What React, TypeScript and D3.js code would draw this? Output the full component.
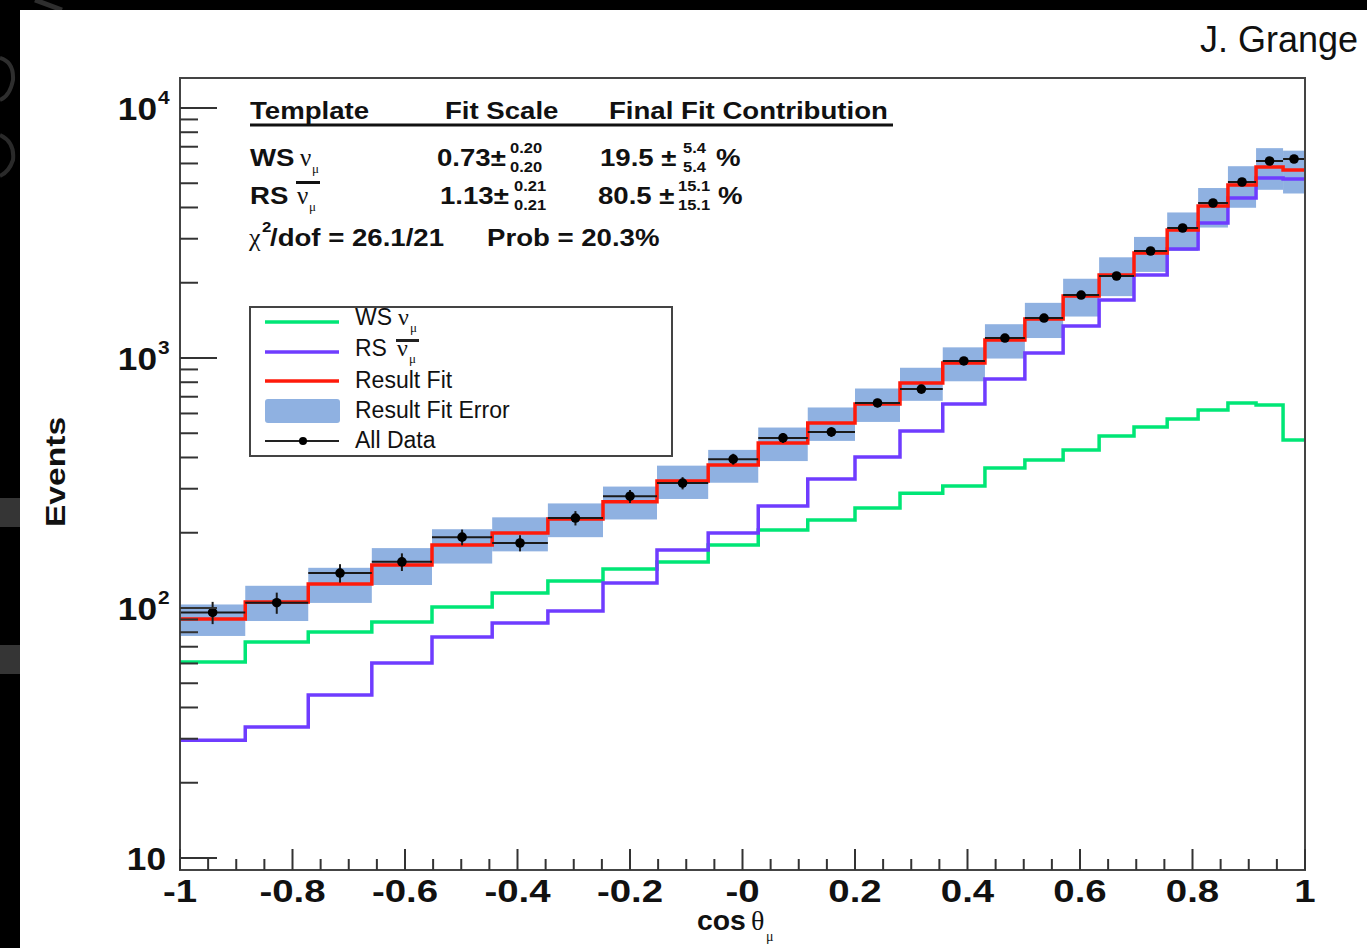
import React from 'react';
import * as d3 from 'd3';

// ---------- data ----------
const binEdges = [-1, -0.884, -0.772, -0.659, -0.552, -0.445, -0.346, -0.248, -0.152, -0.061, 0.028, 0.116, 0.2, 0.28, 0.356, 0.431, 0.502, 0.57, 0.634, 0.696, 0.755, 0.81, 0.863, 0.913, 0.961, 1];
const wsValues = [60.8, 73.1, 80.2, 87.9, 100.9, 114.8, 128.2, 143.2, 152.8, 178.6, 205, 225, 251, 288, 307.6, 363, 391, 428.5, 487.5, 530, 570, 619, 661, 649, 470];
const rsValues = [29.6, 33.4, 44.9, 60.3, 76.6, 87.1, 97.3, 125.9, 170.6, 199.5, 256, 328, 402, 510, 655, 824, 1047, 1343, 1706, 2148, 2729, 3467, 4365, 5248, 5200];
const fitValues = [90.3, 105.7, 124.8, 148.6, 178.6, 199.5, 227, 266, 322, 373, 457, 550, 655, 794, 955, 1180, 1432, 1770, 2148, 2630, 3251, 4055, 4920, 5808, 5650];
const fitErrors = [13, 17, 20, 25, 28, 31, 35, 40, 49, 56, 70, 84, 100, 120, 148, 185, 230, 305, 380, 420, 570, 730, 930, 1100, 1100];
const dataValues = [96, 105, 138, 153, 192, 182, 229, 280, 316, 394, 479, 506, 661, 751, 973, 1202, 1445, 1786, 2128, 2679, 3311, 4169, 5058, 6138, 6252];
const dataErrors = [9.8, 10.2, 11.7, 12.4, 13.9, 13.5, 15.1, 16.7, 17.8, 19.8, 21.9, 22.5, 25.7, 27.4, 31.2, 34.7, 38, 42.3, 46.1, 51.8, 57.5, 64.6, 71.1, 78.3, 79.1];

const xMajorTicks = [-1, -0.8, -0.6, -0.4, -0.2, 0, 0.2, 0.4, 0.6, 0.8, 1];
const xTickLabels = ['-1', '-0.8', '-0.6', '-0.4', '-0.2', '-0', '0.2', '0.4', '0.6', '0.8', '1'];
const yDecades = [10, 100, 1000, 10000];
const yDecadeExponents = ['', '2', '3', '4'];

const tableHeaders = ['Template', 'Fit Scale', 'Final Fit Contribution'];
const fitScales = ['0.73±', '1.13±'];
const fitScaleErrors = ['0.20', '0.21'];
const contributions = ['19.5 ±', '80.5 ±'];
const contributionErrors = ['5.4', '15.1'];
const chi2Text = '/dof = 26.1/21';
const probText = 'Prob = 20.3%';
const legendLabels = ['Result Fit', 'Result Fit Error', 'All Data'];

// ---------- style ----------
const SANS = '"Liberation Sans", Arial, Helvetica, sans-serif';
const SERIF = '"Liberation Serif", "Times New Roman", serif';
const C_GREEN = '#00e676';
const C_PURPLE = '#6f3cff';
const C_RED = '#ff1a0a';
const C_BAND = '#8fb1e1';
const C_TEXT = '#111';

const W = 1367, H = 948;
const PL = 180, PR = 1305, PT = 78, PB = 870;

type TP = { x: number; y: number; size: number; bold?: boolean; sx?: number; anchor?: string; serif?: boolean; rotate?: number; children: any };
const T = ({ x, y, size, bold, sx = 1, anchor = 'start', serif, rotate, children }: TP) => (
  <text
    transform={`translate(${x},${y})${rotate ? ` rotate(${rotate})` : ''} scale(${sx},1)`}
    fontSize={size}
    fontWeight={bold ? 'bold' : 'normal'}
    fontFamily={serif ? SERIF : SANS}
    textAnchor={anchor as any}
    fill={C_TEXT}
  >
    {children}
  </text>
);

export default function App() {
  const x = d3.scaleLinear().domain([-1, 1]).range([PL, PR]);
  const y = d3.scaleLog().domain([10, 10000]).range([858, 108]);

  const stepPath = (vals: number[]) => {
    const pts: [number, number][] = [];
    vals.forEach((v, i) => {
      pts.push([x(binEdges[i]), y(v)]);
      pts.push([x(binEdges[i + 1]), y(v)]);
    });
    return d3.line()(pts) || '';
  };

  const yMinor: number[] = [];
  yDecades.forEach((d) => {
    for (let k = 2; k <= 9; k++) {
      const v = d * k;
      if (y(v) >= PT + 2) yMinor.push(v);
    }
  });
  const xMinor = d3.range(-1, 1.0001, 0.05).filter((v) => Math.abs(Math.round(v * 5) - v * 5) > 1e-6);

  const SX = 1.2;

  return (
    <div style={{ position: 'absolute', left: 0, top: 0 }}>
      <svg width={W} height={H} viewBox={`0 0 ${W} ${H}`} style={{ display: 'block' }}>
        <defs>
          <clipPath id="plotclip">
            <rect x={PL} y={PT} width={PR - PL} height={PB - PT} />
          </clipPath>
        </defs>
        {/* background */}
        <rect x={0} y={0} width={W} height={H} fill="#000" />
        <path d="M0,58 Q14,62 13,80 Q10,96 0,100" fill="none" stroke="#2e2e2e" strokeWidth={4} />
        <path d="M0,135 Q15,142 13,160 Q9,172 0,176" fill="none" stroke="#2a2a2a" strokeWidth={4} />
        <path d="M35,0 L62,10" stroke="#2e2e2e" strokeWidth={5} />
        <rect x={0} y={498} width={20} height={29} fill="#353535" />
        <rect x={0} y={645} width={20} height={29} fill="#353535" />
        <rect x={20} y={10} width={W - 20} height={H - 10} fill="#fff" />

        {/* author */}
        <T x={1358} y={52} size={36} anchor="end">J. Grange</T>

        {/* plot content */}
        <g clipPath="url(#plotclip)">
          {fitValues.map((v, i) => (
            <rect
              key={'b' + i}
              x={x(binEdges[i])}
              y={y(v + fitErrors[i])}
              width={x(binEdges[i + 1]) - x(binEdges[i])}
              height={y(v - fitErrors[i]) - y(v + fitErrors[i])}
              fill={C_BAND}
            />
          ))}
          <path d={stepPath(wsValues)} fill="none" stroke={C_GREEN} strokeWidth={3.5} />
          <path d={stepPath(rsValues)} fill="none" stroke={C_PURPLE} strokeWidth={3.5} />
          <path d={stepPath(fitValues)} fill="none" stroke={C_RED} strokeWidth={3.5} />
          {dataValues.map((v, i) => {
            const cx = x((binEdges[i] + binEdges[i + 1]) / 2);
            return (
              <g key={'d' + i}>
                <line x1={x(binEdges[i])} x2={x(binEdges[i + 1])} y1={y(v)} y2={y(v)} stroke="#1a1a1a" strokeWidth={2} />
                <line x1={cx} x2={cx} y1={y(v + dataErrors[i])} y2={y(v - dataErrors[i])} stroke="#1a1a1a" strokeWidth={2} />
                <circle cx={cx} cy={y(v)} r={4.8} fill="#000" />
              </g>
            );
          })}
        </g>

        {/* frame */}
        <rect x={PL} y={PT} width={PR - PL} height={PB - PT} fill="none" stroke="#444" strokeWidth={2} />

        {/* y ticks */}
        {yDecades.map((d) => (
          <line key={'ym' + d} x1={PL} x2={PL + 37} y1={y(d)} y2={y(d)} stroke="#333" strokeWidth={2} />
        ))}
        {yMinor.map((v) => (
          <line key={'yn' + v} x1={PL} x2={PL + 18} y1={y(v)} y2={y(v)} stroke="#333" strokeWidth={2} />
        ))}
        {yDecades.map((d, i) =>
          yDecadeExponents[i] === '' ? (
            <T key={'yl' + d} x={166} y={y(d) + 12} size={32} bold sx={1.1} anchor="end">10</T>
          ) : (
            <g key={'yl' + d}>
              <T x={157} y={y(d) + 12} size={32} bold sx={1.1} anchor="end">10</T>
              <T x={158} y={y(d) - 4} size={19} bold sx={1.1}>{yDecadeExponents[i]}</T>
            </g>
          )
        )}

        {/* x ticks */}
        {xMajorTicks.map((v) => (
          <line key={'xm' + v} x1={x(v)} x2={x(v)} y1={PB} y2={PB - 21} stroke="#333" strokeWidth={2} />
        ))}
        {xMinor.map((v) => (
          <line key={'xn' + v} x1={x(v)} x2={x(v)} y1={PB} y2={PB - 11} stroke="#333" strokeWidth={2} />
        ))}
        {xMajorTicks.map((v, i) => (
          <T key={'xl' + v} x={x(v)} y={902} size={32} bold sx={SX} anchor="middle">{xTickLabels[i]}</T>
        ))}

        {/* axis titles */}
        <T x={697} y={930} size={27} bold sx={1.05}>cos</T>
        <T x={751} y={930} size={28} serif>θ</T>
        <T x={766} y={941} size={14} serif>μ</T>
        <T x={65} y={472} size={28} bold sx={SX} anchor="middle" rotate={-90}>Events</T>

        {/* fit table */}
        <T x={250} y={119} size={23} bold sx={SX}>{tableHeaders[0]}</T>
        <T x={445} y={119} size={23} bold sx={SX}>{tableHeaders[1]}</T>
        <T x={609} y={119} size={23} bold sx={SX}>{tableHeaders[2]}</T>
        <rect x={250} y={123.5} width={643} height={3} fill="#111" />

        {/* row WS */}
        <T x={250} y={166} size={23} bold sx={SX}>WS</T>
        <T x={300} y={166} size={25} serif>ν</T>
        <T x={312} y={173} size={13} serif>μ</T>
        <T x={437} y={166} size={23} bold sx={SX}>{fitScales[0]}</T>
        <T x={510} y={153} size={15} bold sx={1.1}>{fitScaleErrors[0]}</T>
        <T x={510} y={172} size={15} bold sx={1.1}>{fitScaleErrors[0]}</T>
        <T x={600} y={166} size={23} bold sx={SX}>{contributions[0]}</T>
        <T x={683} y={153} size={15} bold sx={1.1}>{contributionErrors[0]}</T>
        <T x={683} y={172} size={15} bold sx={1.1}>{contributionErrors[0]}</T>
        <T x={716} y={166} size={23} bold sx={SX}>%</T>

        {/* row RS */}
        <T x={250} y={204} size={23} bold sx={SX}>RS</T>
        <rect x={296} y={181} width={24} height={3} fill="#111" />
        <T x={297} y={204} size={25} serif>ν</T>
        <T x={309} y={211} size={13} serif>μ</T>
        <T x={440} y={204} size={23} bold sx={SX}>{fitScales[1]}</T>
        <T x={514} y={191} size={15} bold sx={1.1}>{fitScaleErrors[1]}</T>
        <T x={514} y={210} size={15} bold sx={1.1}>{fitScaleErrors[1]}</T>
        <T x={598} y={204} size={23} bold sx={SX}>{contributions[1]}</T>
        <T x={678} y={191} size={15} bold sx={1.1}>{contributionErrors[1]}</T>
        <T x={678} y={210} size={15} bold sx={1.1}>{contributionErrors[1]}</T>
        <T x={718} y={204} size={23} bold sx={SX}>%</T>

        {/* row chi2 */}
        <T x={249} y={246} size={26} serif>χ</T>
        <T x={262} y={232} size={14} bold sx={SX}>2</T>
        <T x={270} y={246} size={23} bold sx={SX}>{chi2Text}</T>
        <T x={487} y={246} size={23} bold sx={SX}>{probText}</T>

        {/* legend */}
        <rect x={250} y={307} width={422} height={149} fill="#fff" stroke="#444" strokeWidth={2} />
        <line x1={265} x2={339} y1={322} y2={322} stroke={C_GREEN} strokeWidth={3.5} />
        <line x1={265} x2={339} y1={352} y2={352} stroke={C_PURPLE} strokeWidth={3.5} />
        <line x1={265} x2={339} y1={381} y2={381} stroke={C_RED} strokeWidth={3.5} />
        <rect x={265} y={399} width={75} height={24} rx={3} fill={C_BAND} />
        <line x1={265} x2={339} y1={441} y2={441} stroke="#222" strokeWidth={2} />
        <circle cx={303} cy={441} r={4} fill="#000" />

        <T x={355} y={325} size={23}>WS</T>
        <T x={398} y={325} size={24} serif>ν</T>
        <T x={410} y={332} size={13} serif>μ</T>
        <T x={355} y={356} size={23}>RS</T>
        <rect x={396} y={339} width={23} height={3} fill="#222" />
        <T x={397} y={356} size={24} serif>ν</T>
        <T x={409} y={363} size={13} serif>μ</T>
        <T x={355} y={388} size={23}>{legendLabels[0]}</T>
        <T x={355} y={418} size={23}>{legendLabels[1]}</T>
        <T x={355} y={448} size={23}>{legendLabels[2]}</T>
      </svg>
    </div>
  );
}
